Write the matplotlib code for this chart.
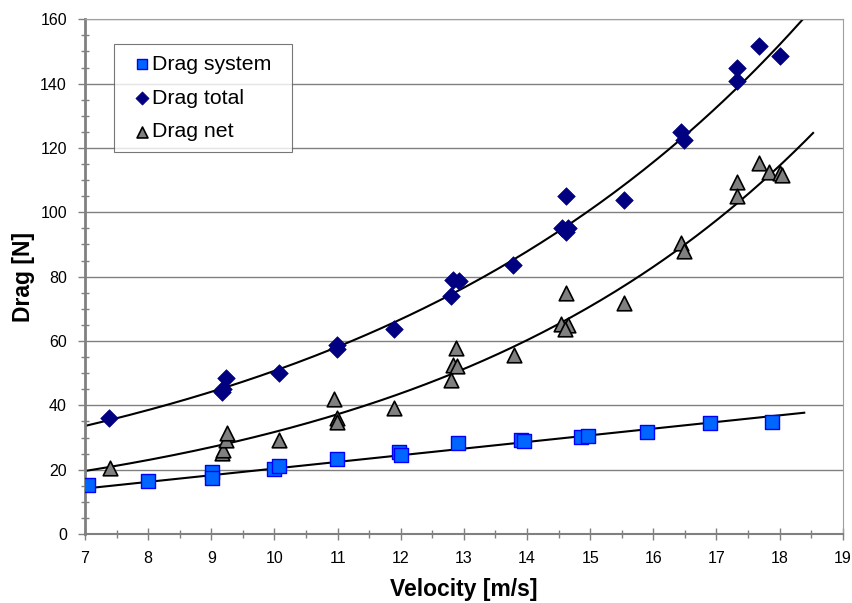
import numpy as np
import matplotlib
matplotlib.use("Agg")
from matplotlib import pyplot as plt
from matplotlib.ticker import MultipleLocator

plt.rcParams['font.family'] = ['Liberation Sans', 'DejaVu Sans']

# Drag system (squares)
v_sys = [7.05, 7.99, 9.01, 9.01, 10.0, 10.07, 10.99, 11.97, 12.0, 12.9, 13.91, 13.95, 14.86, 14.96, 15.9, 16.9, 17.88]
d_sys = [15.2, 16.5, 19.4, 17.5, 20.3, 21.1, 23.3, 25.4, 24.6, 28.2, 29.2, 29.0, 30.1, 30.6, 31.8, 34.4, 34.9]

# Drag total (diamonds)
v_tot = [7.38, 9.23, 9.17, 9.19, 10.07, 10.99, 10.99, 11.9, 12.8, 12.83, 12.92, 13.78,
         14.55, 14.62, 14.65, 14.62, 15.54, 16.44, 16.49, 17.33, 17.33, 17.68, 18.01]
d_tot = [36.0, 48.6, 44.1, 45.0, 50.0, 58.8, 57.5, 63.8, 74.1, 79.0, 78.8, 83.7,
         95.2, 93.8, 95.0, 105.1, 103.9, 124.9, 122.5, 145.0, 140.9, 151.6, 148.6]

# Drag net (triangles)
v_net = [7.4, 9.17, 9.19, 9.23, 9.25, 10.07, 10.94, 10.99, 10.99, 11.9, 12.8, 12.88, 12.83, 12.89,
         13.79, 14.62, 14.54, 14.65, 14.6, 15.53, 16.44, 16.48, 17.33, 17.33, 17.68, 17.83, 18.01, 18.03]
d_net = [20.6, 25.2, 26.0, 29.2, 31.3, 29.2, 42.0, 36.0, 34.9, 39.1, 47.9, 57.8, 52.6, 52.3,
         55.5, 74.9, 65.3, 65.0, 63.7, 71.8, 90.4, 88.1, 109.3, 105.1, 115.3, 112.5, 112.2, 111.6]

# trend lines
# system: linear y = m*x + c ; total/net: exponential y = a*exp(b*x)
trend_sys = (2.069, -0.345, 7.03, 18.39)
trend_tot = (12.85, 0.1373, 7.0, 18.5)
trend_net = (6.37, 0.1605, 7.0, 18.53)

fig = plt.figure(figsize=(8.53, 6.03), dpi=100)
ax = fig.add_axes([0.0997, 0.1144, 0.8883, 0.8536])

m, c, x0, x1 = trend_sys
xs = np.linspace(x0, x1, 50)
ax.plot(xs, m * xs + c, color='black', lw=1.5, zorder=2)
for a, b, x0, x1 in [trend_tot, trend_net]:
    xs = np.linspace(x0, x1, 200)
    ax.plot(xs, a * np.exp(b * xs), color='black', lw=1.5, zorder=2)

ax.scatter(v_sys, d_sys, marker='s', s=95, color='#0066FF', edgecolor='#0000FF', lw=1, zorder=3, label='Drag system')
ax.scatter(v_tot, d_tot, marker='D', s=80, color='#000080', edgecolor='#000080', lw=0.5, zorder=3, label='Drag total')
ax.scatter(v_net, d_net, marker='^', s=110, color='#808080', edgecolor='black', lw=1.2, zorder=3, label='Drag net')

ax.set_xlim(7, 19)
ax.set_ylim(0, 160)
ax.xaxis.set_major_locator(MultipleLocator(1))
ax.xaxis.set_minor_locator(MultipleLocator(0.5))
ax.yaxis.set_major_locator(MultipleLocator(20))
ax.yaxis.set_minor_locator(MultipleLocator(5))
ax.grid(axis='y', color='#808080', lw=1)
ax.set_axisbelow(True)

ax.tick_params(which='both', direction='inout', color='#808080', labelsize=11.5, width=1)
ax.tick_params(which='major', length=8)
ax.tick_params(which='minor', length=6)
ax.tick_params(axis='y', which='major', direction='out', length=5, pad=8)
ax.tick_params(axis='x', which='major', pad=8)
for s in ['top', 'right', 'bottom']:
    ax.spines[s].set_color('#A0A0A0')
ax.spines['left'].set_color('#808080')
ax.spines['left'].set_linewidth(2)
ax.spines['bottom'].set_color('#808080')
ax.spines['bottom'].set_linewidth(1.5)

ax.set_xlabel('Velocity [m/s]', fontsize=16.5, fontweight='bold', labelpad=9)
ax.set_ylabel('Drag [N]', fontsize=16.5, fontweight='bold', labelpad=4)

leg = ax.legend(loc='upper left', bbox_to_anchor=(0.0383, 0.6, 0.2348, 0.352), mode='expand',
                fontsize=15.3, frameon=True, fancybox=False, edgecolor='#555555',
                handletextpad=-0.3, borderpad=0.5, labelspacing=0.7, handlelength=1.6,
                markerscale=0.75, borderaxespad=0)
leg.get_frame().set_linewidth(0.8)

plt.savefig('out.png', dpi=100)
